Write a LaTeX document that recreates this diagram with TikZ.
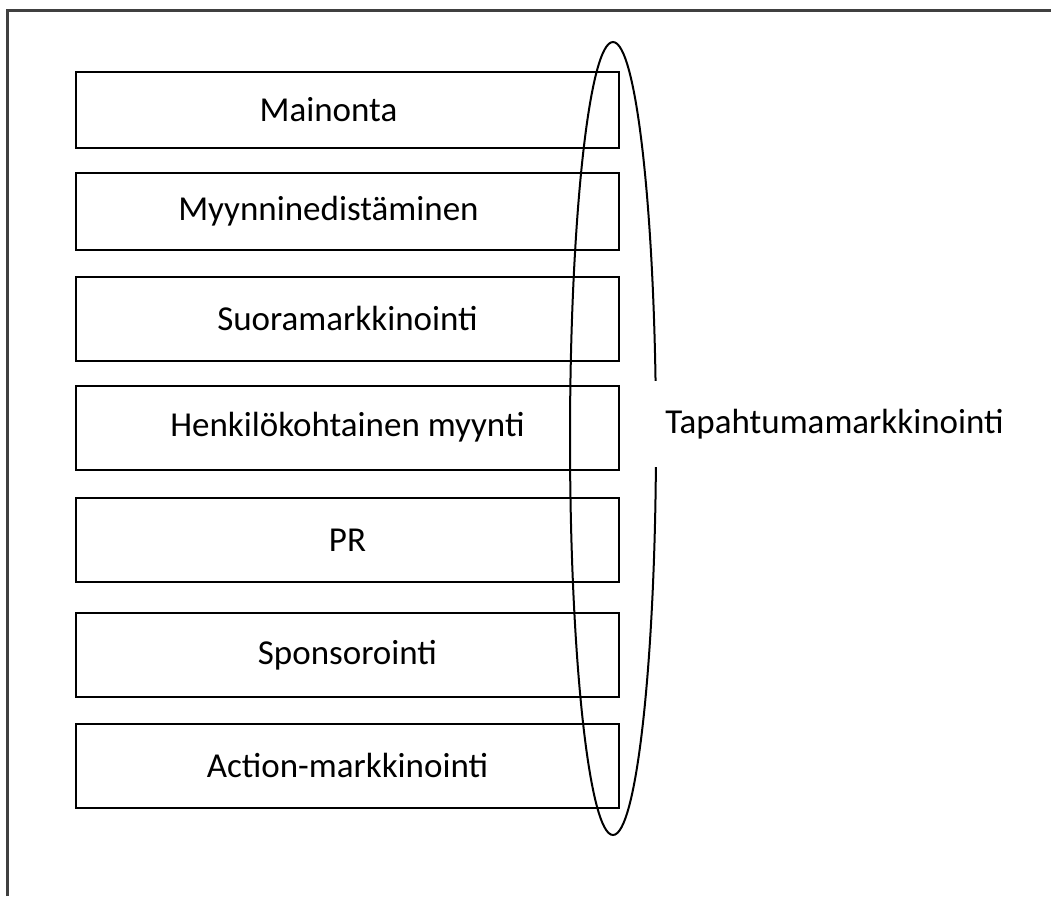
\documentclass[tikz,border=0pt]{standalone}
\usepackage{fontspec}
\setmainfont{Carlito}
\usetikzlibrary{positioning,shapes.geometric}

\begin{document}
\begin{tikzpicture}[x=0.5pt, y=-0.5pt,
  keino/.style={draw, line width=1pt, rectangle, minimum width=271.5pt, minimum height=42pt, inner sep=0pt},
  font=\fontsize{17.5}{21}\selectfont]
  \useasboundingbox (0,0) rectangle (1051,896);
  % outer frame (cut at right and bottom)
  \draw[line width=1.5pt, black!75] (7,896) -- (7,10) -- (1051,10);

  % the tools, top to bottom
  \node [keino, minimum height=38pt](mainonta) at (347.5,110) {Mainonta\hspace*{19pt}};
  \node [keino, minimum height=38.5pt](myynninedist) at (347.5,211.5) {Myynninedistäminen\hspace*{19pt}};
  \node [keino](suora) at (347.5,318.5) {Suoramarkkinointi};
  \node [keino](henk) at (347.5,427.5) {\raisebox{2pt}{Henkilökohtainen myynti}};
  \node [keino](pr) at (347.5,540) {PR};
  \node [keino](sponsor) at (347.5,655) {\raisebox{2pt}{Sponsorointi}};
  \node [keino](action) at (347.5,765.5) {Action-markkinointi};

  % ellipse round them and its name
  \node [draw, ellipse, line width=1pt, minimum width=43pt, minimum height=396.5pt, inner sep=0pt](tapahtuma) at (613,438.5) {};
  \node [fill=white, inner xsep=6pt, inner ysep=14pt, anchor=west](nimi) at (653,424) {Tapahtumamarkkinointi};
\end{tikzpicture}
\end{document}
